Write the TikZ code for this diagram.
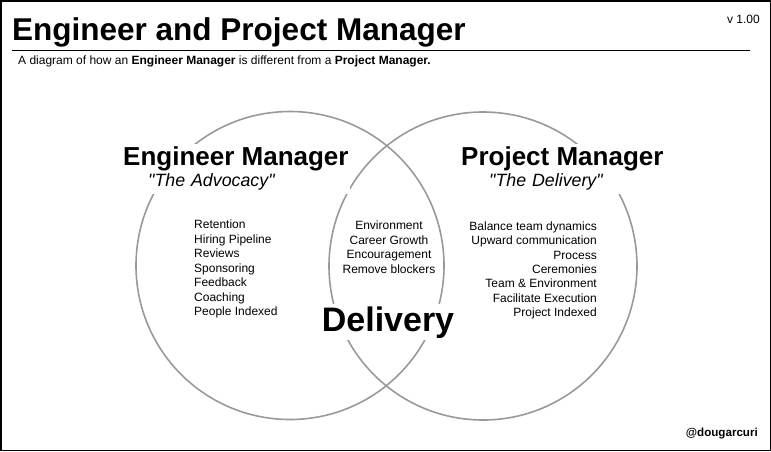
\documentclass[tikz,border=0pt]{standalone}
\usepackage{fontspec}
\setmainfont{Liberation Sans}[Ligatures=TeXOff]
\usepackage{tikz}
\usetikzlibrary{calc}
\definecolor{ringgray}{HTML}{999999}

\begin{document}
\begin{tikzpicture}[x=1pt,y=-1pt,
    ring/.style={draw=ringgray,line width=1.6pt},
    head/.style={fill=white,inner xsep=3pt,inner ysep=2pt,anchor=base west,font=\fontsize{26}{30}\selectfont\bfseries},
    motto/.style={fill=white,inner xsep=3pt,inner ysep=4pt,anchor=base west,align=left,font=\fontsize{17.8}{21}\selectfont\itshape},
    item/.style={inner sep=0pt,font=\fontsize{12}{14}\selectfont}]
  \useasboundingbox (0,0) rectangle (771,451);
  \draw[line width=1.5pt] (0.75,0.75) rectangle (770.25,450.25);
  % title block
  \node[anchor=base west,inner sep=0pt,font=\fontsize{31.5}{36}\selectfont\bfseries] (title) at (12,40) {Engineer and Project Manager};
  \node[anchor=base east,inner sep=0pt,font=\fontsize{12}{14}\selectfont] (version) at (760,23) {v 1.00};
  \coordinate (rulel) at (12,50);
  \coordinate (ruler) at (750,50);
  \draw[line width=0.8pt] (rulel) -- (ruler);
  \node[anchor=base west,inner sep=0pt,font=\fontsize{12}{14}\selectfont] (intro) at (18,64)
    {A diagram of how an \textbf{Engineer Manager} is different from a \textbf{Project Manager.}};
  % the two rings
  \coordinate (em) at (290,265.5);
  \coordinate (pm) at (483,266);
  \draw[ring] (em) circle[radius=154pt];
  \draw[ring] (pm) circle[radius=154pt];
  % headings
  \node[motto,text width=199pt] (emmotto) at (145,186) {"The Advocacy"};
  \node[head] (emhead) at (120,165) {Engineer Manager};
  \node[motto,text width=173pt] (pmmotto) at (486,186) {"The Delivery"};
  \node[head] (pmhead) at (458,165) {Project Manager};
  % lists
  \foreach \txt [count=\i] in {Retention,Hiring Pipeline,Reviews,Sponsoring,Feedback,Coaching,People Indexed}
    \node[item,anchor=base west] (emitem\i) at (194,{228.5+14.5*(\i-1)}) {\txt};
  \foreach \txt [count=\i] in {Environment,Career Growth,Encouragement,Remove blockers}
    \node[item,anchor=base] (both\i) at (389,{229.5+14.5*(\i-1)}) {\txt};
  \foreach \txt [count=\i] in {Balance team dynamics,Upward communication,Process,Ceremonies,Team \& Environment,Facilitate Execution,Project Indexed}
    \node[item,anchor=base east] (pmitem\i) at (597,{230.5+14.3*(\i-1)}) {\txt};
  \node[fill=white,inner sep=2pt,anchor=base,font=\fontsize{34}{40}\selectfont\bfseries] (delivery) at (388,331) {Delivery};
  \node[anchor=base east,inner sep=0pt,font=\fontsize{11.6}{14}\selectfont\bfseries] (handle) at (758,436) {@dougarcuri};
\end{tikzpicture}
\end{document}
